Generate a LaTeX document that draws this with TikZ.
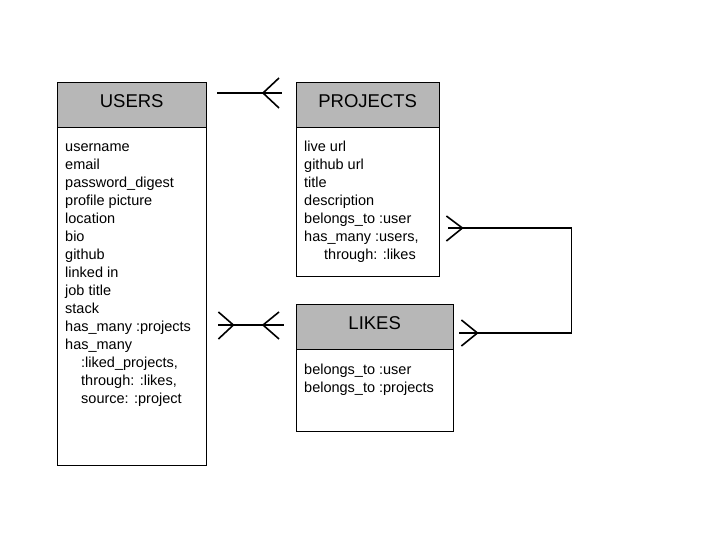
\documentclass[tikz,border=0pt]{standalone}
\usepackage{fontspec}
\setmainfont{Liberation Sans}
\usetikzlibrary{calc}
\definecolor{hdrgray}{HTML}{B7B7B7}

\begin{document}
\begin{tikzpicture}[x=1pt,y=-1pt,
  hdr/.style={draw,fill=hdrgray,anchor=north west,inner sep=0pt,minimum height=45pt,font=\fontsize{18.5}{22}\selectfont,text height=13pt,text depth=8pt},
  tbl/.style={draw,anchor=north west,inner sep=0pt},
  fields/.style={anchor=north west,align=left,inner sep=0pt,font=\fontsize{14.5}{18}\selectfont},
  link/.style={line width=1.6pt}]
  \useasboundingbox (0,0) rectangle (720,540);
  % tables
  \node[tbl,minimum width=149pt,minimum height=338pt] (usersB) at (57,127) {};
  \node[hdr,minimum width=149pt] (usersH) at (57,82) {USERS};
  \node[fields] (usersF) at (65,138.4) {\strut username\\email\\password\_digest\\profile picture\\location\\bio\\github\\linked in\\job title\\stack\\has\_many :projects\\has\_many\\\hspace*{16pt}:liked\_projects,\\\hspace*{16pt}through: :likes,\\\hspace*{16pt}source: :project};
  \node[tbl,minimum width=143pt,minimum height=149pt] (projectsB) at (296,127) {};
  \node[hdr,minimum width=143pt] (projectsH) at (296,82) {PROJECTS};
  \node[fields] (projectsF) at (304,138.4) {\strut live url\\github url\\title\\description\\belongs\_to :user\\has\_many :users,\\\hspace*{20pt}through: :likes};
  \node[tbl,minimum width=157pt,minimum height=82pt] (likesB) at (296,349) {};
  \node[hdr,minimum width=157pt] (likesH) at (296,304) {LIKES};
  \node[fields] (likesF) at (304,361.4) {\strut belongs\_to :user\\belongs\_to :projects};
  % users -- projects
  \coordinate (up1) at ($(usersH.north east)+(11,11)$);
  \coordinate (up2) at ($(projectsH.north west)+(-14,11)$);
  \draw[link] (up1) -- (up2);
  \draw[link] ($(up2)+(-3,-15)$) -- ($(up2)+(-19,0)$) -- ($(up2)+(-3,15)$);
  % users -- likes
  \coordinate (ul1) at ($(usersB.north east)+(12,198)$);
  \coordinate (ul2) at ($(likesH.north west)+(-12,21)$);
  \draw[link] (ul1) -- (ul2);
  \draw[link] ($(ul1)+(0,-13)$) -- ($(ul1)+(15,0)$) -- ($(ul1)+(0,14)$);
  \draw[link] ($(ul2)+(-5,-13)$) -- ($(ul2)+(-21,0)$) -- ($(ul2)+(-5,14)$);
  % projects -- likes
  \coordinate (pl1) at ($(projectsB.north east)+(9,101)$);
  \coordinate (pl2) at ($(likesH.north east)+(6,29)$);
  \draw[link] (pl1) -- ++(123,0) |- (pl2);
  \draw[link] ($(pl1)+(-2,-12)$) -- ($(pl1)+(14,0)$) -- ($(pl1)+(-2,13)$);
  \draw[link] ($(pl2)+(2,-13)$) -- ($(pl2)+(18,0)$) -- ($(pl2)+(2,13)$);
\end{tikzpicture}
\end{document}
